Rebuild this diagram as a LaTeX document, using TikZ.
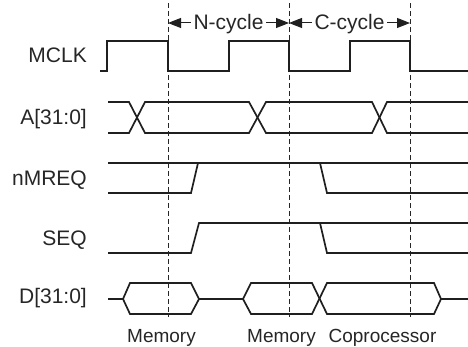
\documentclass[tikz,border=0pt]{standalone}
\usepackage{fontspec}
\setmainfont{Liberation Sans}
\usetikzlibrary{arrows.meta}
\begin{document}
\begin{tikzpicture}[x=1pt,y=-1pt,
  sig/.style={line width=1.7pt, line join=miter, color=black!88},
  gridline/.style={line width=0.8pt, dash pattern=on 5pt off 3pt, black!85},
  lbl/.style={anchor=base east, inner sep=0pt, font=\fontsize{21}{24}\selectfont, text=black!85},
  cyc/.style={anchor=base, inner sep=2.5pt, font=\fontsize{21}{24}\selectfont, text=black!85},
  bot/.style={anchor=base, inner sep=0pt, font=\fontsize{19}{22}\selectfont, text=black!85},
  arr/.style={line width=1pt, black!88, -{Triangle[length=13pt,width=10pt]}}]
\useasboundingbox (0,0) rectangle (468,347);

% dashed time markers
\coordinate (t1) at (168,3);   \coordinate (b1) at (168,317);
\coordinate (t2) at (289,3);   \coordinate (b2) at (289,317);
\coordinate (t3) at (410,3);   \coordinate (b3) at (410,317);
\draw[gridline] (t1) -- (b1);
\draw[gridline] (t2) -- (b2);
\draw[gridline] (t3) -- (b3);

% cycle arrows
\coordinate (a1) at (168,23);
\coordinate (a2) at (289,23);
\coordinate (a3) at (410,23);
\node[cyc] (nc) at (228.5,30) {N-cycle};
\node[cyc] (cc) at (349.5,30) {C-cycle};
\draw[arr] (a1 -| nc.west) -- (a1);
\draw[arr] (a2 -| nc.east) -- (a2);
\draw[arr] (a2 -| cc.west) -- (a2);
\draw[arr] (a3 -| cc.east) -- (a3);

% signal labels
\node[lbl] (lmclk) at (87,63) {MCLK};
\node[lbl] (la) at (87,125) {A[31:0]};
\node[lbl] (lmreq) at (87,186) {nMREQ};
\node[lbl] (lseq) at (87,246) {SEQ};
\node[lbl] (ld) at (87,303) {D[31:0]};

% MCLK
\draw[sig] (100,71) -- (107,71) -- (107,41) -- (168,41) -- (168,71) -- (229,71)
  -- (229,41) -- (289,41) -- (289,71) -- (350,71) -- (350,41) -- (410,41)
  -- (410,71) -- (468,71);

% A[31:0]
\draw[sig] (108,102) -- (129,102) -- (145,133) -- (249,133) -- (266,102) -- (372,102) -- (387,133) -- (468,133);
\draw[sig] (108,133) -- (129,133) -- (145,102) -- (249,102) -- (266,133) -- (372,133) -- (387,102) -- (468,102);

% nMREQ
\draw[sig] (108,163) -- (468,163);
\draw[sig] (108,193) -- (191,193) -- (198,163);
\draw[sig] (320,163) -- (327,193) -- (468,193);

% SEQ
\draw[sig] (108,253) -- (191,253) -- (199,223) -- (468,223);
\draw[sig] (320,223) -- (327,253) -- (468,253);

% D[31:0]
\draw[sig] (108,299) -- (123,299) -- (130,283) -- (191,283) -- (199,299) -- (243,299)
  -- (251,283) -- (312,283) -- (327,314) -- (434,314) -- (441,299) -- (468,299);
\draw[sig] (123,299) -- (130,314) -- (191,314) -- (199,299);
\draw[sig] (243,299) -- (251,314) -- (312,314) -- (327,283) -- (434,283) -- (441,299);

% bottom labels
\node[bot] (m1) at (161.5,342) {Memory};
\node[bot] (m2) at (281.5,342) {Memory};
\node[bot] (cp) at (382.5,342) {Coprocessor};
\end{tikzpicture}
\end{document}
